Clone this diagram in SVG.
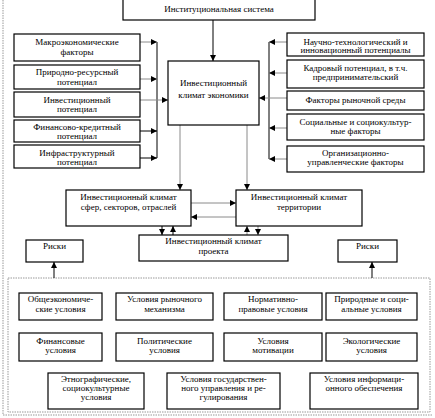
<svg xmlns="http://www.w3.org/2000/svg" width="435" height="418" viewBox="0 0 435 418">
<defs>
<marker id="ah" markerUnits="userSpaceOnUse" markerWidth="6" markerHeight="6" refX="6" refY="3" orient="auto">
<path d="M0,0 L6,3 L0,6 z" fill="#000"/>
</marker>
<style>
.box{fill:#fff;stroke:#000;stroke-width:1.2}
.t{font-family:"Liberation Serif","Times New Roman",serif;font-size:9px;fill:#000;text-anchor:middle}
.bus{stroke:#000;stroke-width:1;fill:none}
.g{stroke:#8a8a8a;stroke-width:1;fill:none}
.dot{stroke:#999;stroke-width:1;fill:none;stroke-dasharray:1.5 1}
</style>
</defs>
<rect width="435" height="418" fill="#fff"/>
<g id="frame">
<line class="dot" x1="3" y1="0" x2="3" y2="415"/>
<line class="dot" x1="3" y1="415" x2="432" y2="415"/>
<rect class="dot" x="8" y="278" width="422" height="134"/>
</g>
<g id="connectors">
<line class="bus" x1="213" y1="20" x2="213" y2="61" marker-end="url(#ah)"/>
<line class="bus" x1="157" y1="42" x2="157" y2="158"/>
<line class="g" x1="140" y1="42" x2="157" y2="42" marker-end="url(#ah)"/>
<line class="g" x1="140" y1="79" x2="157" y2="79" marker-end="url(#ah)"/>
<line class="bus" x1="140" y1="131" x2="157" y2="131" marker-end="url(#ah)"/>
<line class="bus" x1="140" y1="158" x2="157" y2="158" marker-end="url(#ah)"/>
<line class="g" x1="140" y1="100" x2="168" y2="100" marker-end="url(#ah)"/>
<line class="bus" x1="269" y1="42" x2="269" y2="159"/>
<line class="g" x1="287" y1="42" x2="269" y2="42" marker-end="url(#ah)"/>
<line class="g" x1="287" y1="73" x2="269" y2="73" marker-end="url(#ah)"/>
<line class="g" x1="287" y1="128" x2="269" y2="128" marker-end="url(#ah)"/>
<line class="g" x1="287" y1="159" x2="269" y2="159" marker-end="url(#ah)"/>
<line class="g" x1="287" y1="98" x2="259" y2="98" marker-end="url(#ah)"/>
<line class="g" x1="180" y1="125" x2="180" y2="190" marker-end="url(#ah)"/>
<line class="g" x1="247" y1="125" x2="247" y2="190" marker-end="url(#ah)"/>
<line class="g" x1="191" y1="203" x2="236" y2="203" marker-end="url(#ah)"/>
<line class="g" x1="236" y1="217" x2="191" y2="217" marker-end="url(#ah)"/>
<line class="bus" x1="162" y1="226" x2="162" y2="235" marker-end="url(#ah)"/>
<line class="bus" x1="173" y1="235" x2="173" y2="226" marker-end="url(#ah)"/>
<line class="g" x1="247" y1="235" x2="247" y2="226" marker-end="url(#ah)"/>
<line class="g" x1="258" y1="226" x2="258" y2="235" marker-end="url(#ah)"/>
<line class="bus" x1="54" y1="278" x2="54" y2="262" marker-end="url(#ah)"/>
<line class="bus" x1="372" y1="278" x2="372" y2="262" marker-end="url(#ah)"/>
</g>
<g id="n-inst"><rect class="box" x="123" y="-1" width="192" height="21"/><text class="t" x="219" y="12">Институциональная система</text></g>
<g id="n-center"><rect class="box" x="168" y="61" width="91" height="64"/><text class="t" x="213.5" y="86">Инвестиционный</text><text class="t" x="213.5" y="98">климат экономики</text></g>
<g id="n-l1"><rect class="box" x="14" y="34" width="126" height="27"/><text class="t" x="77" y="45">Макроэкономические</text><text class="t" x="77" y="55">факторы</text></g>
<g id="n-l2"><rect class="box" x="14" y="65" width="126" height="24"/><text class="t" x="77" y="75">Природно-ресурсный</text><text class="t" x="77" y="85">потенциал</text></g>
<g id="n-l3"><rect class="box" x="14" y="92" width="126" height="25"/><text class="t" x="77" y="103">Инвестиционный</text><text class="t" x="77" y="112">потенциал</text></g>
<g id="n-l4"><rect class="box" x="14" y="120" width="126" height="22"/><text class="t" x="77" y="130">Финансово-кредитный</text><text class="t" x="77" y="139">потенциал</text></g>
<g id="n-l5"><rect class="box" x="14" y="145" width="126" height="23"/><text class="t" x="77" y="156">Инфраструктурный</text><text class="t" x="77" y="165">потенциал</text></g>
<g id="n-r1"><rect class="box" x="287" y="33" width="137" height="23"/><text class="t" x="355.5" y="44.5">Научно-технологический и</text><text class="t" x="355.5" y="53">инновационный потенциалы</text></g>
<g id="n-r2"><rect class="box" x="287" y="60" width="137" height="28"/><text class="t" x="355.5" y="71">Кадровый потенциал, в т.ч.</text><text class="t" x="355.5" y="80">предпринимательский</text></g>
<g id="n-r3"><rect class="box" x="287" y="91" width="137" height="19"/><text class="t" x="355.5" y="103">Факторы рыночной среды</text></g>
<g id="n-r4"><rect class="box" x="287" y="114" width="137" height="26"/><text class="t" x="355.5" y="125">Социальные и социокультур-</text><text class="t" x="355.5" y="134">ные факторы</text></g>
<g id="n-r5"><rect class="box" x="287" y="146" width="137" height="26"/><text class="t" x="355.5" y="156">Организационно-</text><text class="t" x="355.5" y="165">управленческие факторы</text></g>
<g id="n-sphere"><rect class="box" x="66" y="190" width="125" height="36"/><text class="t" x="128.5" y="199.5">Инвестиционный климат</text><text class="t" x="128.5" y="209.5">сфер, секторов, отраслей</text></g>
<g id="n-terr"><rect class="box" x="236" y="190" width="126" height="36"/><text class="t" x="299" y="199.5">Инвестиционный климат</text><text class="t" x="299" y="209.5">территории</text></g>
<g id="n-proj"><rect class="box" x="139" y="235" width="149" height="26"/><text class="t" x="213.5" y="244">Инвестиционный климат</text><text class="t" x="213.5" y="253.5">проекта</text></g>
<g id="n-risk1"><rect class="box" x="26" y="240" width="57" height="22"/><text class="t" x="54.5" y="249">Риски</text></g>
<g id="n-risk2"><rect class="box" x="338" y="240" width="59" height="22"/><text class="t" x="367.5" y="249">Риски</text></g>
<g id="n-b1"><rect class="box" x="19" y="293" width="83" height="27"/><text class="t" x="60.5" y="302">Общеэкономиче-</text><text class="t" x="60.5" y="312">ские условия</text></g>
<g id="n-b2"><rect class="box" x="116" y="293" width="97" height="27"/><text class="t" x="164.5" y="302">Условия рыночного</text><text class="t" x="164.5" y="312">механизма</text></g>
<g id="n-b3"><rect class="box" x="224" y="293" width="98" height="27"/><text class="t" x="273" y="302">Нормативно-</text><text class="t" x="273" y="312">правовые условия</text></g>
<g id="n-b4"><rect class="box" x="326" y="293" width="91" height="27"/><text class="t" x="371.5" y="302">Природные и соци-</text><text class="t" x="371.5" y="312">альные условия</text></g>
<g id="n-b5"><rect class="box" x="19" y="333" width="83" height="28"/><text class="t" x="60.5" y="343.5">Финансовые</text><text class="t" x="60.5" y="352.5">условия</text></g>
<g id="n-b6"><rect class="box" x="116" y="333" width="97" height="28"/><text class="t" x="164.5" y="343.5">Политические</text><text class="t" x="164.5" y="352.5">условия</text></g>
<g id="n-b7"><rect class="box" x="224" y="333" width="98" height="28"/><text class="t" x="273" y="343.5">Условия</text><text class="t" x="273" y="352.5">мотивации</text></g>
<g id="n-b8"><rect class="box" x="326" y="333" width="91" height="28"/><text class="t" x="371.5" y="343.5">Экологические</text><text class="t" x="371.5" y="352.5">условия</text></g>
<g id="n-b9"><rect class="box" x="48" y="373" width="96" height="36"/><text class="t" x="96" y="382">Этнографические,</text><text class="t" x="96" y="391">социокультурные</text><text class="t" x="96" y="400">условия</text></g>
<g id="n-b10"><rect class="box" x="167" y="373" width="113" height="36"/><text class="t" x="223.5" y="382">Условия государствен-</text><text class="t" x="223.5" y="391">ного управления и ре-</text><text class="t" x="223.5" y="400">гулирования</text></g>
<g id="n-b11"><rect class="box" x="310" y="373" width="108" height="36"/><text class="t" x="364" y="382">Условия информаци-</text><text class="t" x="364" y="391">онного обеспечения</text></g>
</svg>
